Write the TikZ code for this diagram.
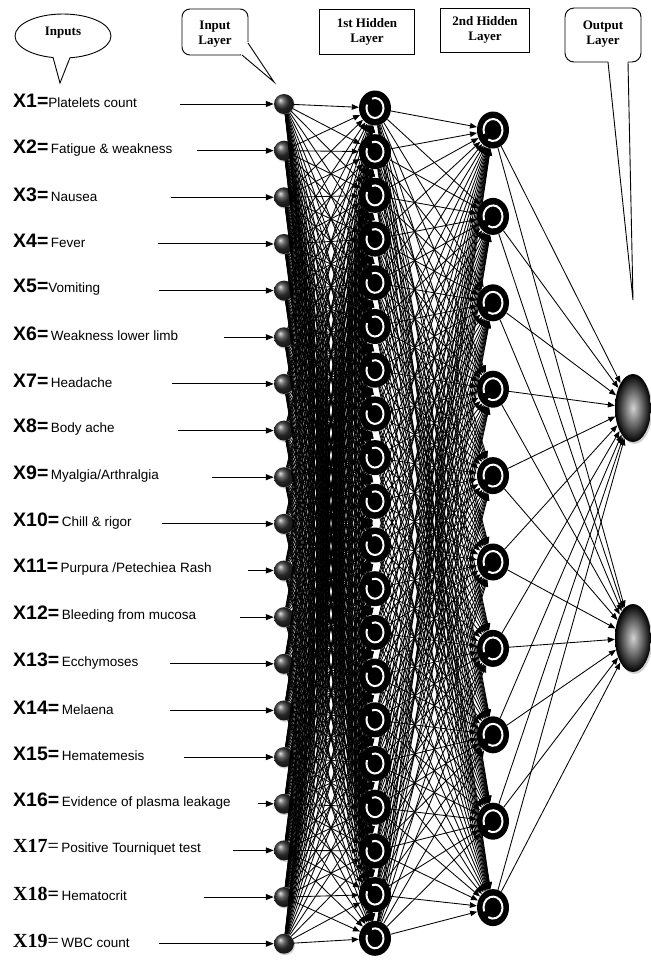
\documentclass[tikz,border=0pt]{standalone}
\usepackage{fontspec}
\setmainfont{Liberation Serif}
\setsansfont{Liberation Sans}
\usetikzlibrary{arrows.meta,shapes.geometric,shadows}

% font switches for the input captions and the callout titles
\newcommand\pfxfont{\fontsize{19.5}{20}\selectfont\sffamily\bfseries}
\newcommand\rpfxfont{\fontsize{20}{21}\selectfont\rmfamily\bfseries}
\newcommand\dscfont{\fontsize{13.5}{14}\selectfont\sffamily\mdseries}
\newcommand\ttlfont{\fontsize{13}{15.5}\selectfont\rmfamily\bfseries}

\begin{document}
\begin{tikzpicture}[x=1pt,y=-1pt,
  conn/.style={line width=0.85pt,-{Triangle[length=7pt,width=5.5pt]}},
  feed/.style={line width=1pt,-{Triangle[length=8pt,width=6pt]}},
  inp/.style={circle,minimum size=20pt,inner sep=0pt,shading=ball,ball color=black!80,
              drop shadow={shadow xshift=1pt,shadow yshift=-1.5pt,fill=black!35}},
  hidA/.style={ellipse,minimum width=32pt,minimum height=35pt,inner sep=0pt,fill=black},
  hidB/.style={ellipse,minimum width=32pt,minimum height=37pt,inner sep=0pt,fill=black},
  outn/.style={ellipse,minimum width=36pt,minimum height=68pt,inner sep=0pt,
              shading=radial,inner color=gray!35,outer color=black,
              drop shadow={shadow xshift=1.5pt,shadow yshift=-2pt,fill=black!35}},
  ring/.style={white,line width=2pt},
  lab/.style={anchor=west,inner sep=0pt},
  callout/.style={line width=0.9pt},
  ttl/.style={align=center,inner sep=0pt,font=\ttlfont}]
\useasboundingbox (0,0) rectangle (651,962);

% ---------------- callouts and layer titles ----------------
% "Inputs" speech bubble
\draw[callout,fill=white] (63,36) ellipse [x radius=48, y radius=22];
\fill[white] (53.5,53) -- (69.5,53) -- (70,57.8) -- (60,83) -- (53,57.5) -- cycle;
\draw[callout] (53,57.3) -- (60,83) -- (70,57.6);
\node[ttl] (tin) at (63,33) {Inputs};

% "Input Layer" bubble
\draw[callout,fill=white,rounded corners=8pt] (182,9) rectangle (248,55);
\fill[white] (246,42) -- (248.5,42) -- (274,82) -- (241,55.5) -- (241,52) -- cycle;
\draw[callout] (248,43) -- (274,82) -- (242,55);
\node[ttl] (til) at (215,34) {Input\\Layer};

% plain boxes for the hidden layers
\node[ttl,draw,line width=0.9pt,minimum width=95pt,minimum height=45pt] (th1) at (367,32) {1st Hidden\\Layer};
\node[ttl,draw,line width=0.9pt,minimum width=89pt,minimum height=44pt] (th2) at (485,30) {2nd Hidden\\Layer};

% "Output Layer" bubble with long narrow pointer
\draw[callout,fill=white,rounded corners=9pt] (565,8) rectangle (641,62);
\fill[white] (608.5,58) -- (627.5,58) -- (628,62) -- (633,300) -- (608,62) -- cycle;
\draw[callout] (608,62) -- (633,300) -- (628,62);
\node[ttl] (tol) at (603,34) {Output\\Layer};

% ---------------- nodes ----------------
\foreach \i in {1,...,19}
  \node[inp] (i\i) at (284,{104+(\i-1)*46.65}) {};
\foreach \j in {1,...,20}
  \node[hidA] (a\j) at (375,{108+(\j-1)*43.7}) {};
\foreach \k in {1,...,10}
  \node[hidB] (b\k) at (493,{130+(\k-1)*86.4}) {};
\node[outn] (o1) at (633,408) {};
\node[outn] (o2) at (633,638) {};

% ---------------- input captions ----------------
\node[lab] (l1)  at (13,101)    {{\pfxfont X1=}{\dscfont Platelets count}};
\node[lab] (l2)  at (13,147.65) {{\pfxfont X2=} {\dscfont Fatigue \& weakness}};
\node[lab] (l3)  at (13,194.3)  {{\pfxfont X3=} {\dscfont Nausea}};
\node[lab] (l4)  at (13,240.95) {{\pfxfont X4=} {\dscfont Fever}};
\node[lab] (l5)  at (13,287.6)  {{\pfxfont X5=}{\dscfont Vomiting}};
\node[lab] (l6)  at (13,334.25) {{\pfxfont X6=} {\dscfont Weakness lower limb}};
\node[lab] (l7)  at (13,380.9)  {{\pfxfont X7=} {\dscfont Headache}};
\node[lab] (l8)  at (13,427.55) {{\pfxfont X8=} {\dscfont Body ache}};
\node[lab] (l9)  at (13,474.2)  {{\pfxfont X9=} {\dscfont Myalgia/Arthralgia}};
\node[lab] (l10) at (13,520.85) {{\pfxfont X10=} {\dscfont Chill \& rigor}};
\node[lab] (l11) at (13,567.5)  {{\pfxfont X11=} {\dscfont Purpura /Petechiea Rash}};
\node[lab] (l12) at (13,614.15) {{\pfxfont X12=} {\dscfont Bleeding from mucosa}};
\node[lab] (l13) at (13,660.8)  {{\pfxfont X13=} {\dscfont Ecchymoses}};
\node[lab] (l14) at (13,707.45) {{\pfxfont X14=} {\dscfont Melaena}};
\node[lab] (l15) at (13,754.1)  {{\pfxfont X15=} {\dscfont Hematemesis}};
\node[lab] (l16) at (13,800.75) {{\pfxfont X16=} {\dscfont Evidence of plasma leakage}};
\node[lab] (l17) at (13,847.4)  {{\rpfxfont X17\mdseries=} {\dscfont Positive Tourniquet test}};
\node[lab] (l18) at (13,894.05) {{\rpfxfont X18=} {\dscfont Hematocrit}};
\node[lab] (l19) at (13,940.7)  {{\rpfxfont X19\mdseries=} {\dscfont WBC count}};

% feeding arrows from each caption to its input neuron
\foreach \i/\sx in {1/180,2/197,3/171,4/158,5/159,6/224,7/172,8/178,9/212,10/162,
                    11/248,12/240,13/170,14/170,15/184,16/258,17/233,18/204,19/159} {
  \coordinate (s\i) at (\sx,{104+(\i-1)*46.65});
  \draw[feed] (s\i) -- (i\i);
}

% ---------------- fully connected weights ----------------
\foreach \i in {1,...,19}
  \foreach \j in {1,...,20}
    \draw[conn] (i\i) -- (a\j);
\foreach \j in {1,...,20}
  \foreach \k in {1,...,10}
    \draw[conn] (a\j) -- (b\k);
\foreach \k in {1,...,10}
  \foreach \o in {1,2}
    \draw[conn] (b\k) -- (o\o);

% white open rings inside the hidden neurons
\foreach \j in {1,...,20}
  \draw[ring] (a\j.center) ++(250:8.5 and 10) arc[start angle=250,end angle=560,x radius=8.5,y radius=10];
\foreach \k in {1,...,10}
  \draw[ring] (b\k.center) ++(160:9.5 and 11) arc[start angle=160,end angle=480,x radius=9.5,y radius=11];
\end{tikzpicture}
\end{document}
